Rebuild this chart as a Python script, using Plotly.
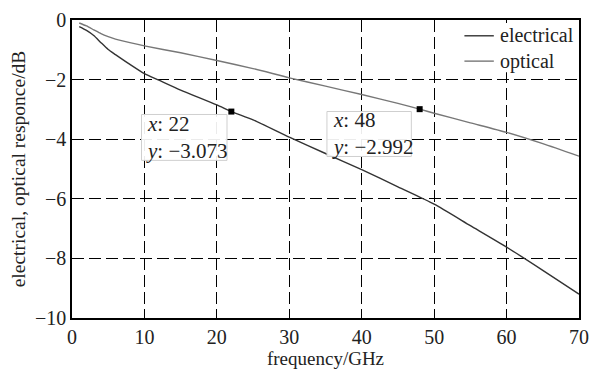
import plotly.graph_objects as go

freq_e = [1, 2, 3, 4, 5, 6, 8, 10, 12, 15, 20, 22, 25, 30, 35, 40, 45, 50, 55, 60, 65, 70]
electrical = [-0.22, -0.35, -0.52, -0.76, -0.99, -1.16, -1.49, -1.8, -2.02, -2.35, -2.85, -3.073,
              -3.35, -3.93, -4.48, -5.02, -5.6, -6.18, -6.9, -7.62, -8.4, -9.2]
freq_o = [1, 2, 3, 4, 5, 6, 8, 10, 15, 20, 25, 30, 35, 40, 45, 48, 50, 55, 60, 65, 70]
optical = [-0.1, -0.2, -0.33, -0.46, -0.56, -0.64, -0.76, -0.87, -1.1, -1.36, -1.63, -1.94,
           -2.22, -2.5, -2.8, -2.992, -3.13, -3.45, -3.77, -4.15, -4.57]

series_names = ["electrical", "optical"]
series_colors = ["#333333", "#777777"]

tips_x = [22, 48]
tips_y = [-3.073, -2.992]
# datatip box extents (data units): x0, x1, y_top, y_bottom
tip_box_x0 = [9.6, 35.2]
tip_box_x1 = [21.4, 46.85]
tip_box_top = [-3.17, -3.07]
tip_box_bot = [-4.71, -4.58]

x_ticks = [0, 10, 20, 30, 40, 50, 60, 70]
y_ticks = [0, -2, -4, -6, -8, -10]

FONT = "Liberation Serif, Times New Roman, serif"
TXT = "#222"

fig = go.Figure()
fig.add_trace(go.Scatter(x=freq_e, y=electrical, mode="lines", name=series_names[0],
                         showlegend=False, line=dict(color=series_colors[0], width=1.4, shape="spline", smoothing=0.6)))
fig.add_trace(go.Scatter(x=freq_o, y=optical, mode="lines", name=series_names[1],
                         showlegend=False, line=dict(color=series_colors[1], width=1.4, shape="spline", smoothing=0.6)))
fig.add_trace(go.Scatter(x=tips_x, y=tips_y, mode="markers", showlegend=False,
                         marker=dict(symbol="square", size=6, color="black")))

# datatips
for x0, x1, yt, yb, tx, ty in zip(tip_box_x0, tip_box_x1, tip_box_top, tip_box_bot, tips_x, tips_y):
    fig.add_shape(type="rect", xref="x", yref="y", x0=x0, x1=x1, y0=yb, y1=yt,
                  line=dict(color="#cfcfcf", width=1), fillcolor="rgba(255,255,255,0.92)",
                  layer="above")
    fig.add_annotation(x=x0 + 0.4, y=(yt + yb) / 2, xref="x", yref="y",
                       xanchor="left", yanchor="middle", showarrow=False, align="left",
                       text=f"<i>x</i>: {tx}<br><i>y</i>: \u2212{abs(ty):.3f}",
                       font=dict(family=FONT, size=21, color=TXT))

# legend (white box, short line samples)
fig.add_shape(type="rect", xref="paper", yref="paper", x0=0.76, x1=0.995, y0=0.825, y1=0.99,
              line=dict(width=0), fillcolor="white", layer="above")
leg_y = [0.947, 0.862]
for color, ly in zip(series_colors, leg_y):
    fig.add_shape(type="line", xref="paper", yref="paper", x0=0.774, x1=0.832, y0=ly, y1=ly,
                  line=dict(color=color, width=1.4), layer="above")
fig.add_annotation(x=0.841, y=sum(leg_y) / 2, xref="paper", yref="paper", xanchor="left",
                   yanchor="middle", showarrow=False, align="left",
                   text="<br>".join(series_names),
                   font=dict(family=FONT, size=20, color=TXT))

axis_common = dict(showline=True, linecolor="black", linewidth=1.5, mirror=True,
                   showgrid=True, gridcolor="black", gridwidth=1.3, griddash="12px,5px",
                   zeroline=False, ticks="", tickfont=dict(family=FONT, size=20, color=TXT))

fig.update_xaxes(range=[0, 70], tickvals=x_ticks,
                 title=dict(text="frequency/GHz", font=dict(family=FONT, size=19, color=TXT),
                            standoff=4), **axis_common)
fig.update_yaxes(range=[-10, 0], tickvals=y_ticks,
                 ticktext=[("\u2212" + str(abs(v))) if v < 0 else str(v) for v in y_ticks],
                 title=dict(text="electrical, optical responce/dB",
                            font=dict(family=FONT, size=19.5, color=TXT), standoff=4),
                 **axis_common)

fig.update_layout(
    width=598, height=384,
    margin=dict(l=72, r=9, t=14, b=66),
    plot_bgcolor="white", paper_bgcolor="white",
    showlegend=False,
)

fig.write_html("out.html")
